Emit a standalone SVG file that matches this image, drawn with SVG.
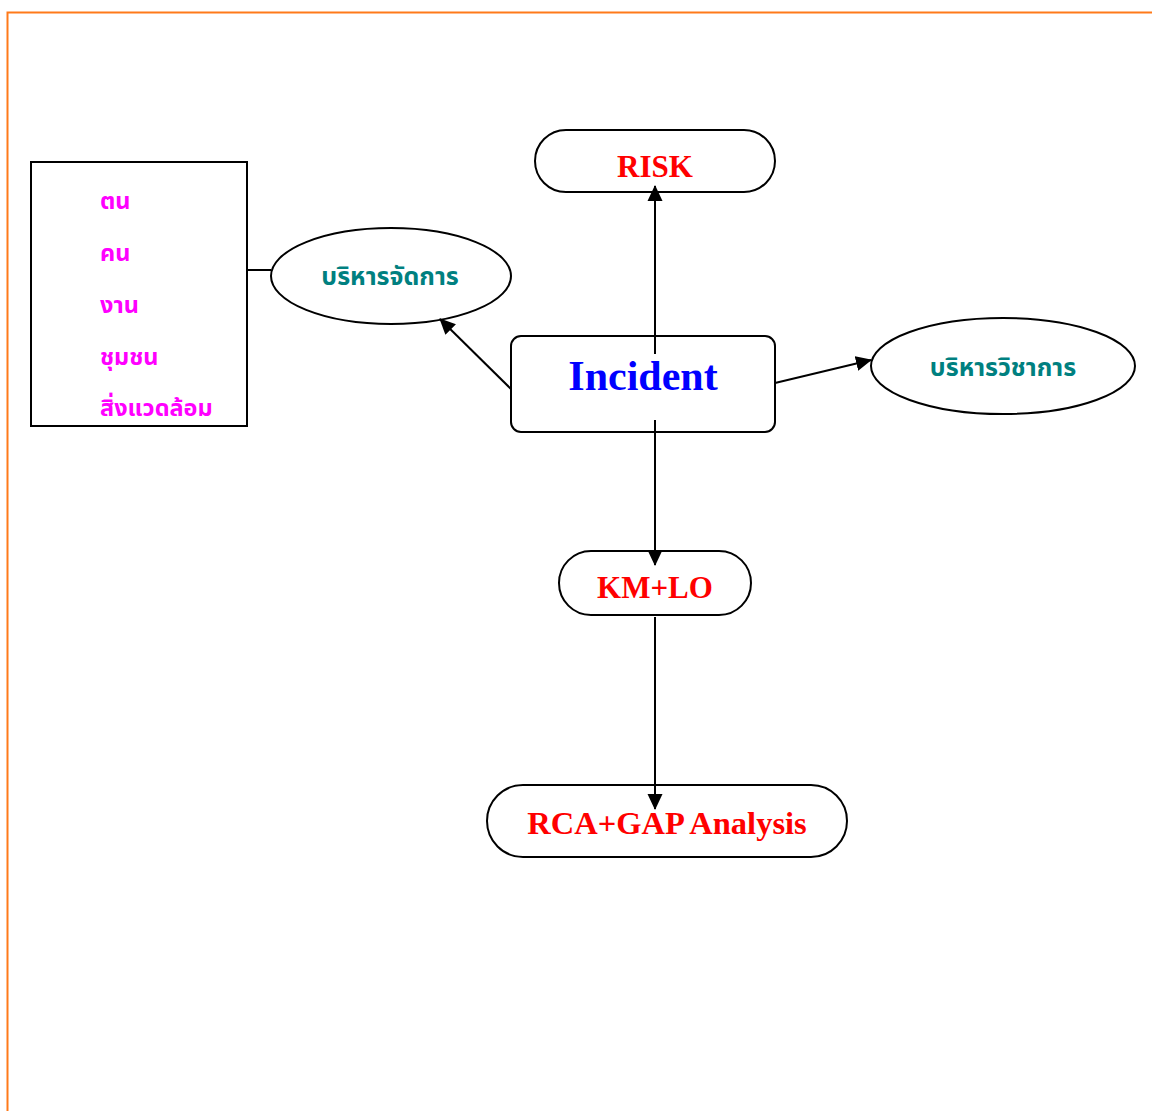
<svg xmlns="http://www.w3.org/2000/svg" width="1152" height="1111" viewBox="0 0 1152 1111">
<style>
.sh{fill:#fff;stroke:#000;stroke-width:2}
.ln{stroke:#000;stroke-width:2;fill:none}
.ar{marker-end:url(#ah)}
.th{font-family:"Liberation Serif","Noto Sans Thai","Noto Sans",serif;font-weight:bold}
.en{font-family:"Liberation Serif","Times New Roman",serif;font-weight:bold}
.mag{fill:#FF00FF;font-size:23.5px}
.teal{fill:#008080;font-size:25px}
.red{fill:#FF0000}
</style>
<defs>
<marker id="ah" markerWidth="16" markerHeight="16" refX="15" refY="8" orient="auto" markerUnits="userSpaceOnUse">
<path d="M0,0.5 L16,8 L0,15.5 z" fill="#000"/>
</marker>
</defs>
<rect width="1152" height="1111" fill="#fff"/>
<path d="M7.5,1111 V12.5 H1152" fill="none" stroke="#FF7A1A" stroke-width="2"/>
<g id="list">
<rect class="sh" x="31" y="162" width="216" height="264"/>
<text class="th mag" x="100" y="209">ตน</text>
<text class="th mag" x="100" y="261">คน</text>
<text class="th mag" x="100" y="313">งาน</text>
<text class="th mag" x="100" y="365">ชุมชน</text>
<text class="th mag" x="100" y="416">สิ่งแวดล้อม</text>
</g>
<g id="admin">
<ellipse class="sh" cx="391" cy="276" rx="120" ry="48"/>
<text class="th teal" x="390" y="285" text-anchor="middle">บริหารจัดการ</text>
</g>
<g id="risk">
<rect class="sh" x="535" y="130" width="240" height="62" rx="31"/>
<text class="en red" x="655" y="177" text-anchor="middle" font-size="31">RISK</text>
</g>
<g id="incident">
<rect class="sh" x="511" y="336" width="264" height="96" rx="10"/>
<text class="en" x="643" y="390" text-anchor="middle" font-size="42" fill="#0000FF">Incident</text>
</g>
<g id="academic">
<ellipse class="sh" cx="1003" cy="366" rx="132" ry="48"/>
<text class="th teal" x="1003" y="376" text-anchor="middle">บริหารวิชาการ</text>
</g>
<g id="kmlo">
<rect class="sh" x="559" y="551" width="192" height="64" rx="32"/>
<text class="en red" x="655" y="598" text-anchor="middle" font-size="31">KM+LO</text>
</g>
<g id="rca">
<rect class="sh" x="487" y="785" width="360" height="72" rx="36"/>
<text class="en red" x="667" y="834" text-anchor="middle" font-size="32.5">RCA+GAP Analysis</text>
</g>
<g id="connectors">
<line class="ln" x1="247" y1="270" x2="271" y2="270"/>
<line class="ln ar" x1="655" y1="354" x2="655" y2="186"/>
<line class="ln ar" x1="511" y1="389" x2="440" y2="319"/>
<line class="ln ar" x1="775" y1="383" x2="871" y2="360"/>
<line class="ln ar" x1="655" y1="420" x2="655" y2="565"/>
<line class="ln ar" x1="655" y1="617" x2="655" y2="809"/>
</g>
</svg>
